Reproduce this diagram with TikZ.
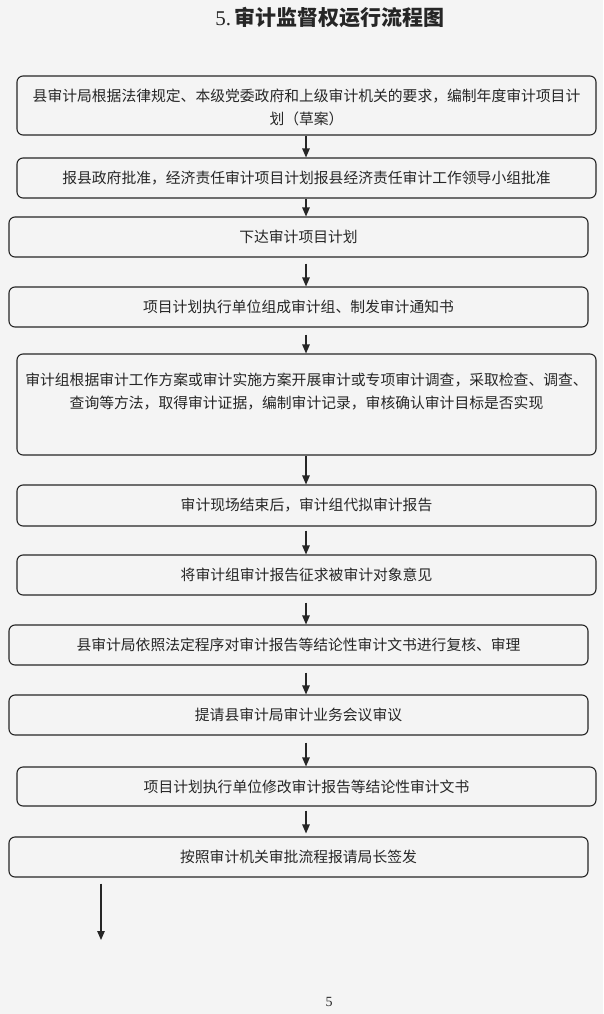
\documentclass[tikz,border=0pt]{standalone}
\usepackage{fontspec}
\setmainfont{Liberation Serif}
\newfontfamily\cjk{Noto Sans CJK SC}
\usetikzlibrary{arrows.meta}
\definecolor{paper}{HTML}{F4F4F4}
\definecolor{ink}{HTML}{262626}
\begin{document}
\begin{tikzpicture}[x=1pt,y=-1pt,
  flowbox/.style={draw=ink, line width=1.1pt, rounded corners=6pt,
    minimum width=579pt, inner sep=0pt, align=center,
    font=\cjk\fontsize{14.8}{22}\selectfont, text=ink},
  boxtext/.style={inner sep=0pt, align=center,
    font=\cjk\fontsize{14.8}{23}\selectfont, text=ink},
  arr/.style={draw=ink, line width=1.1pt, -{Triangle[length=9pt,width=7.5pt]}}]
\fill[paper] (0,0) rectangle (603,1014);
\useasboundingbox (0,0) rectangle (603,1014);

\node[text=ink] (title) at (330,18) {\fontsize{21}{21}\selectfont 5.\,{\cjk\bfseries 审计监督权运行流程图}};

\coordinate (ax) at (306,0);

\node[flowbox, minimum height=59pt] (b1) at (306.5,105.5) {};
\node[boxtext] (t1) at (306.5,107.5)
  {县审计局根据法律规定、本级党委政府和上级审计机关的要求，编制年度审计项目计\\划（草案）};
\node[flowbox, minimum height=40pt] (b2) at (306.5,178)
  {报县政府批准，经济责任审计项目计划报县经济责任审计工作领导小组批准};
\node[flowbox, minimum height=40pt] (b3) at (298.5,237) {下达审计项目计划};
\node[flowbox, minimum height=40pt] (b4) at (298.5,307) {项目计划执行单位组成审计组、制发审计通知书};
\node[flowbox, minimum height=101pt] (b5) at (306.5,404.5) {};
\node[boxtext] (t5) at (306.5,391.5)
  {审计组根据审计工作方案或审计实施方案开展审计或专项审计调查，采取检查、调查、\\查询等方法，取得审计证据，编制审计记录，审核确认审计目标是否实现};
\node[flowbox, minimum height=41pt] (b6) at (306.5,505.5) {审计现场结束后，审计组代拟审计报告};
\node[flowbox, minimum height=40pt] (b7) at (306.5,575) {将审计组审计报告征求被审计对象意见};
\node[flowbox, minimum height=40pt] (b8) at (298.5,645) {县审计局依照法定程序对审计报告等结论性审计文书进行复核、审理};
\node[flowbox, minimum height=40pt] (b9) at (298.5,715) {提请县审计局审计业务会议审议};
\node[flowbox, minimum height=39pt] (b10) at (306.5,786.5) {项目计划执行单位修改审计报告等结论性审计文书};
\node[flowbox, minimum height=40pt] (b11) at (298.5,857) {按照审计机关审批流程报请局长签发};

\coordinate (endpt) at (101,940);

\draw[arr] (b1.south -| ax) -- (b2.north -| ax);
\draw[arr] (b2.south -| ax) -- (b3.north -| ax);
\draw[arr, shorten <=6pt] (b3.south -| ax) -- (b4.north -| ax);
\draw[arr, shorten <=7pt] (b4.south -| ax) -- (b5.north -| ax);
\draw[arr] (b5.south -| ax) -- (b6.north -| ax);
\draw[arr, shorten <=4pt] (b6.south -| ax) -- (b7.north -| ax);
\draw[arr, shorten <=7pt] (b7.south -| ax) -- (b8.north -| ax);
\draw[arr, shorten <=7pt] (b8.south -| ax) -- (b9.north -| ax);
\draw[arr, shorten <=7pt] (b9.south -| ax) -- (b10.north -| ax);
\draw[arr, shorten <=4pt, shorten >=3pt] (b10.south -| ax) -- (b11.north -| ax);
\draw[arr, shorten <=6pt] (b11.south -| endpt) -- (endpt);

\node[text=ink] (pg) at (329,1002) {\fontsize{14}{14}\selectfont 5};
\end{tikzpicture}
\end{document}
